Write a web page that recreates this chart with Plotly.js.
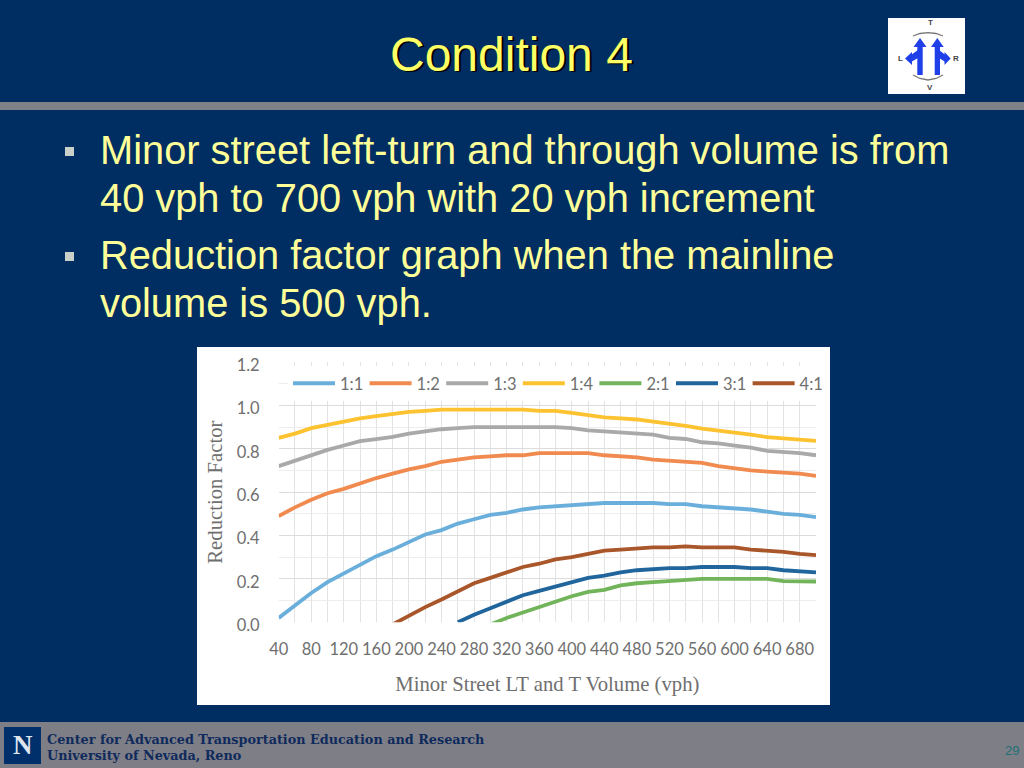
<!DOCTYPE html>
<html><head><meta charset="utf-8">
<script src="https://cdn.plot.ly/plotly-3.0.1.min.js"></script>
<style>html,body{margin:0;padding:0;background:#002d62;overflow:hidden}#c{width:1024px;height:768px}</style>
</head><body><div id="c"></div>
<script>
const volumes = [40,60,80,100,120,140,160,180,200,220,240,260,280,300,320,340,360,380,400,420,440,460,480,500,520,540,560,580,600,620,640,660,680,700];
const s11 = [.02,.08,.135,.185,.225,.265,.305,.335,.37,.405,.425,.455,.475,.495,.505,.52,.53,.535,.54,.545,.55,.55,.55,.55,.545,.545,.535,.53,.525,.52,.51,.50,.495,.485];
const s12 = [.49,.53,.565,.595,.615,.64,.665,.685,.705,.72,.74,.75,.76,.765,.77,.77,.78,.78,.78,.78,.77,.765,.76,.75,.745,.74,.735,.72,.71,.70,.695,.69,.685,.675];
const s13 = [.72,.745,.77,.795,.815,.835,.845,.855,.87,.88,.89,.895,.90,.90,.90,.90,.90,.90,.895,.885,.88,.875,.87,.865,.85,.845,.83,.825,.815,.805,.79,.785,.78,.77];
const s14 = [.85,.87,.895,.91,.925,.94,.95,.96,.97,.975,.98,.98,.98,.98,.98,.98,.975,.975,.965,.955,.945,.94,.935,.925,.916,.905,.893,.885,.873,.865,.854,.847,.842,.836];
const s21 = [null,null,null,null,null,null,null,null,null,null,null,null,null,-.01,.02,.045,.07,.095,.12,.14,.15,.17,.18,.185,.19,.195,.20,.20,.20,.20,.20,.19,.188,.188];
const s31 = [null,null,null,null,null,null,null,null,null,null,null,0,.035,.065,.095,.125,.145,.165,.185,.205,.215,.23,.24,.245,.25,.25,.255,.255,.255,.25,.25,.24,.235,.23];
const s41 = [null,null,null,null,null,null,null,-.01,.03,.07,.105,.145,.18,.205,.23,.255,.27,.29,.30,.315,.33,.335,.34,.345,.345,.35,.345,.345,.345,.335,.33,.325,.315,.31];
const seriesNames = ['1:1','1:2','1:3','1:4','2:1','3:1','4:1'];
const seriesValues = [s11,s12,s13,s14,s21,s31,s41];
const seriesColors = ['#6aaedb','#f08a4f','#a9a9a9','#fdc22f','#72b45a','#20659c','#a9562a'];
const xTicks = [40,80,120,160,200,240,280,320,360,400,440,480,520,560,600,640,680];
const yTicks = [0,0.2,0.4,0.6,0.8,1.0,1.2];
const titleText = 'Condition 4';
const bulletLines = ['Minor street left-turn and through volume is from','40 vph to 700 vph with 20 vph increment','Reduction factor graph when the mainline','volume is 500 vph.'];
const footerLines = ['Center for Advanced Transportation Education and Research','University of Nevada, Reno'];

const px = v => v/1024, py = v => 1 - v/768;
const rect = (x0,y0,x1,y1,color) => ({type:'rect',xref:'paper',yref:'paper',x0:px(x0),x1:px(x1),y0:py(y0),y1:py(y1),fillcolor:color,line:{width:0},layer:'below'});
const path = (pts,o) => ({type:'path',xref:'paper',yref:'paper',layer:'below',
  path:'M'+pts.map(p=>px(p[0])+','+py(p[1])).join('L')+(o.close?'Z':''),
  fillcolor:o.fill||'rgba(0,0,0,0)',line:{color:o.color||'rgba(0,0,0,0)',width:o.width||0}});
const txt = (x,y,t,size,color,fam,anchor,weight) => ({xref:'paper',yref:'paper',x:px(x),y:py(y),text:t,showarrow:false,xanchor:anchor||'left',yanchor:'middle',font:{size:size,color:color,family:fam,weight:weight||400}});
const SANS='"Liberation Sans",Arial,sans-serif', SERIF='"Liberation Serif",serif', DSERIF='"DejaVu Serif",serif', LABEL='Lato,sans-serif';
const blue='#1f3fe8';
const shapes = [
  rect(0,102,1024,110,'#808088'),
  rect(0,722,1024,768,'#7e7e86'),
  rect(4,727,41,764,'#00306b'),
  rect(197,347,830,705,'#ffffff'),
  rect(888,18,965,94,'#ffffff'),
  rect(65,147,74,156,'#c9cfc9'),
  rect(65,252,74,261,'#c9cfc9'),
  rect(917.3,44,922.7,75,blue), rect(934.7,44,940,75,blue),
  path([[913.5,47],[920,38],[926.5,47]],{fill:blue,close:true}),
  path([[931,47],[937.3,38],[943.7,47]],{fill:blue,close:true}),
  path([[905,58.5],[912,52],[912,65]],{fill:blue,close:true}),
  path([[950.7,58.5],[944.5,52],[944.5,65]],{fill:blue,close:true}),
  path([[911,55],[918,50],[918,58],[911,62]],{fill:blue,close:true}),
  path([[945.5,55],[939,50],[939,58],[945.5,62]],{fill:blue,close:true}),
  path([[913,36],[920,33.5],[928,32.7],[936,33.5],[943,36]],{color:'#777',width:1.3}),
  path([[913,75],[920,78.5],[928,80],[936,78.5],[943,75]],{color:'#777',width:1.3})
];
const annotations = [
  txt(513.5,56,titleText,48,'#000000',SANS,'center'),
  txt(511.5,54,titleText,48,'#ffff66',SANS,'center'),
  txt(98,150,bulletLines[0],39.8,'#ffff99',SANS),
  txt(98,198,bulletLines[1],39.8,'#ffff99',SANS),
  txt(98,255,bulletLines[2],39.8,'#ffff99',SANS),
  txt(98,303,bulletLines[3],39.8,'#ffff99',SANS),
  txt(45,739,footerLines[0],12.8,'#0e2a5c',DSERIF,'left',700),
  txt(45,755,footerLines[1],12.8,'#0e2a5c',DSERIF,'left',700),
  txt(22.5,745,'N',27,'#dfe6f0',SERIF,'center',700),
  txt(1012,750,'29',13,'#1f6f78',SANS,'center'),
  txt(930,22.5,'T',8,'#444',SANS,'center',700),
  txt(930,87,'V',8,'#444',SANS,'center',700),
  txt(900,59,'L',8,'#444',SANS,'center',700),
  txt(956,59,'R',8,'#444',SANS,'center',700)
];
const traces = seriesNames.map((n,i)=>({type:'scatter',mode:'lines',name:n,x:volumes,y:seriesValues[i],connectgaps:false,
  line:{color:seriesColors[i],width:3.8,shape:'linear'},hoverinfo:'skip'}));
const tickFont={family:LABEL,size:16.5,color:'#6f6f6f'};
const layout = {
  width:1024,height:768,margin:{l:0,r:0,t:0,b:0,autoexpand:false},
  paper_bgcolor:'#002d62',plot_bgcolor:'rgba(0,0,0,0)',showlegend:true,
  xaxis:{domain:[px(278.7),px(816)],range:[40,700],tickmode:'array',tickvals:xTicks,ticktext:xTicks.map(String),
    showgrid:true,gridcolor:'#e3e3e3',gridwidth:1,zeroline:false,showline:false,ticks:'',tickfont:tickFont,ticklabelstandoff:15,
    minor:{dtick:20,tick0:40,showgrid:true,gridcolor:'#e3e3e3',gridwidth:1},
    title:{text:'Minor Street LT and T Volume (vph)',font:{family:SERIF,size:20.7,color:'#6f6f6f'},standoff:18}},
  yaxis:{domain:[py(622.3),py(362)],range:[0,1.2],tickmode:'array',tickvals:yTicks,ticktext:yTicks.map(v=>v.toFixed(1)),
    showgrid:true,gridcolor:'#dcdcdc',gridwidth:1,zeroline:false,showline:false,ticks:'',tickfont:tickFont,ticklabelstandoff:18,ticklabelshift:3,
    minor:{dtick:0.1,showgrid:true,gridcolor:'#ededed',gridwidth:1},
    title:{text:'Reduction Factor',font:{family:SERIF,size:20.7,color:'#6f6f6f'},standoff:8}},
  legend:{orientation:'h',x:px(288),y:py(366),xanchor:'left',yanchor:'top',bgcolor:'#ffffff',borderwidth:0,
    itemwidth:42,entrywidth:19.6,entrywidthmode:'pixels',itemclick:false,itemdoubleclick:false,traceorder:'normal',
    font:{family:LABEL,size:16.5,color:'#6f6f6f'}},
  shapes:shapes,annotations:annotations
};
Plotly.newPlot('c',traces,layout,{displayModeBar:false,staticPlot:true});
</script></body></html>
